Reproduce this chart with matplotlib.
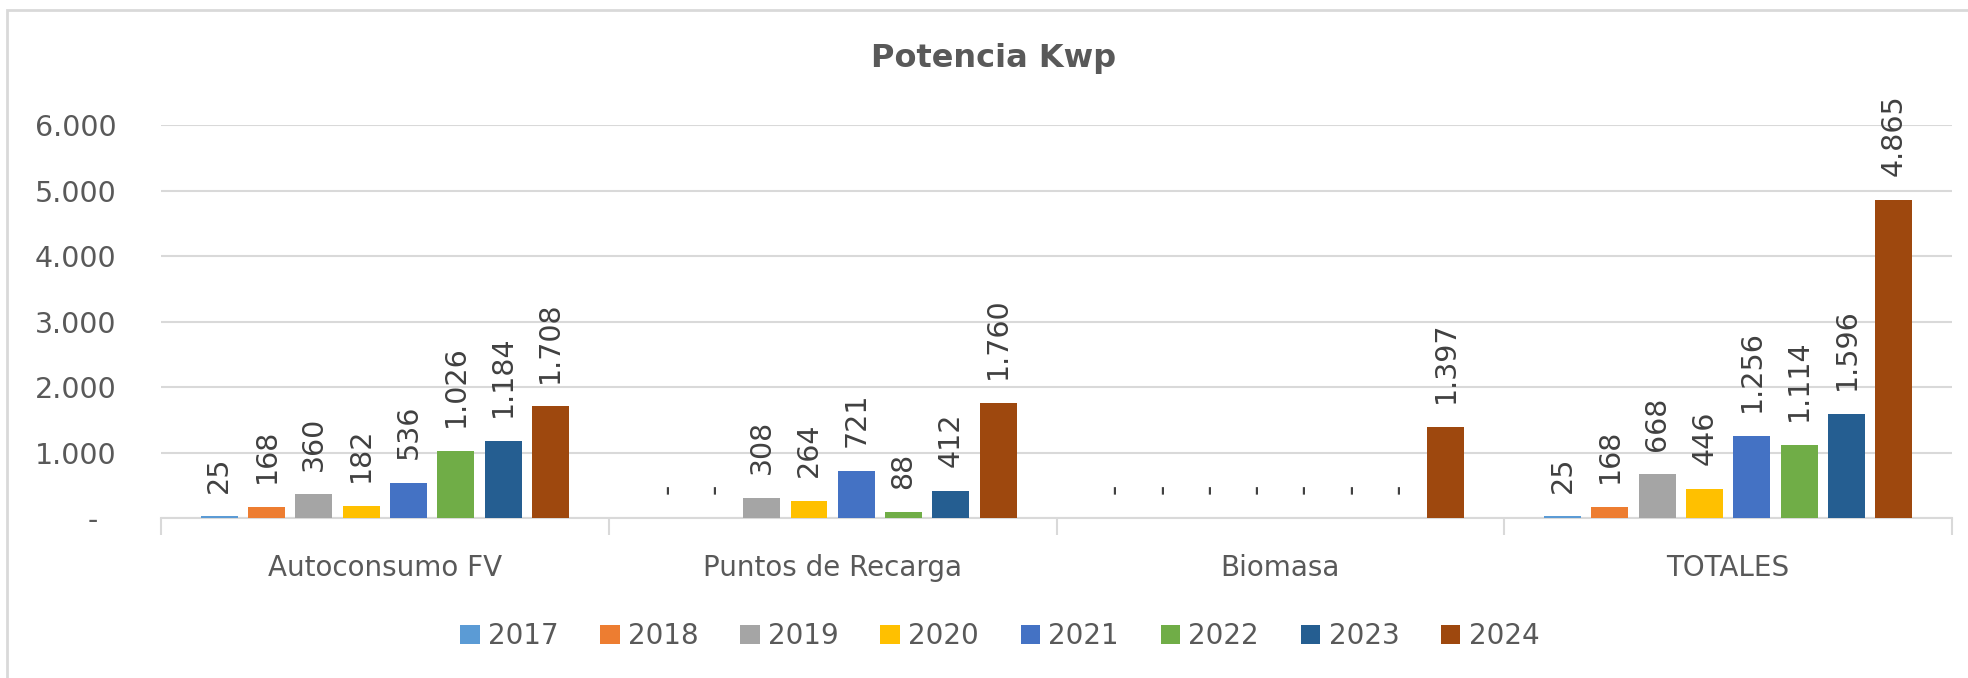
import matplotlib.pyplot as plt
from matplotlib.patches import Rectangle

categories = ['Autoconsumo FV', 'Puntos de Recarga', 'Biomasa', 'TOTALES']
years = ['2017', '2018', '2019', '2020', '2021', '2022', '2023', '2024']

# values per year, one per category
v2017 = [25, 0, 0, 25]
v2018 = [168, 0, 0, 168]
v2019 = [360, 308, 0, 668]
v2020 = [182, 264, 0, 446]
v2021 = [536, 721, 0, 1256]
v2022 = [1026, 88, 0, 1114]
v2023 = [1184, 412, 0, 1596]
v2024 = [1708, 1760, 1397, 4865]
series = [v2017, v2018, v2019, v2020, v2021, v2022, v2023, v2024]

colors = ['#5B9BD5', '#ED7D31', '#A5A5A5', '#FFC000',
          '#4472C4', '#70AD47', '#255E91', '#9E480E']

def fmt(v):
    if v == 0:
        return '-'
    return f'{v:,}'.replace(',', '.')

fig = plt.figure(figsize=(19.68, 6.78), dpi=100)
ax = fig.add_axes([0.0818, 0.236, 0.9101, 0.579])

pitch = 0.1056
width = 0.0826
x = range(len(categories))
for i, (yr, vals, c) in enumerate(zip(years, series, colors)):
    xs = [k + (i - 3.5) * pitch for k in x]
    ax.bar(xs, vals, width=width, color=c, label=yr, zorder=3)
    for xx, v in zip(xs, vals):
        ax.annotate(fmt(v), (xx, v), xytext=(0, 17), textcoords='offset points',
                    rotation=90, ha='center', va='bottom', fontsize=20.5,
                    color='#404040', zorder=4)

ax.set_xlim(-0.5, 3.5)
ax.set_ylim(0, 6000)
yt = [0, 1000, 2000, 3000, 4000, 5000, 6000]
ax.set_yticks(yt)
ax.set_yticklabels(['-  '] + [fmt(v) for v in yt[1:]], fontsize=20.5, color='#595959')
ax.tick_params(axis='y', length=0, pad=32)
ax.grid(axis='y', color='#D9D9D9', linewidth=1.5, zorder=0)

ax.set_xticks([-0.5, 0.5, 1.5, 2.5, 3.5])
ax.set_xticklabels([])
ax.tick_params(axis='x', which='major', length=12, width=1.5, color='#D9D9D9')
ax.set_xticks(list(x), minor=True)
ax.set_xticklabels(categories, minor=True, fontsize=20, color='#595959')
ax.tick_params(axis='x', which='minor', length=0, pad=26)

for s in ['top', 'right', 'left']:
    ax.spines[s].set_visible(False)
ax.spines['bottom'].set_color('#D9D9D9')
ax.spines['bottom'].set_linewidth(1.5)

fig.text(0.505, 0.913, 'Potencia Kwp', ha='center', va='center',
         fontsize=23, fontweight='bold', color='#595959')

fig.legend(loc='center', bbox_to_anchor=(0.508, 0.062), ncol=8, frameon=False,
           fontsize=20, handlelength=0.7, handleheight=0.7, handletextpad=0.3,
           columnspacing=1.5, labelcolor='#595959')

# chart border (right and bottom edges fall outside the image)
fig.patches.append(Rectangle((7 / 1968, -0.05), 1.1, 1.05 - 10 / 678 + 0.0,
                             transform=fig.transFigure, fill=False,
                             edgecolor='#D9D9D9', linewidth=2))

fig.savefig('out.png', dpi=100)
